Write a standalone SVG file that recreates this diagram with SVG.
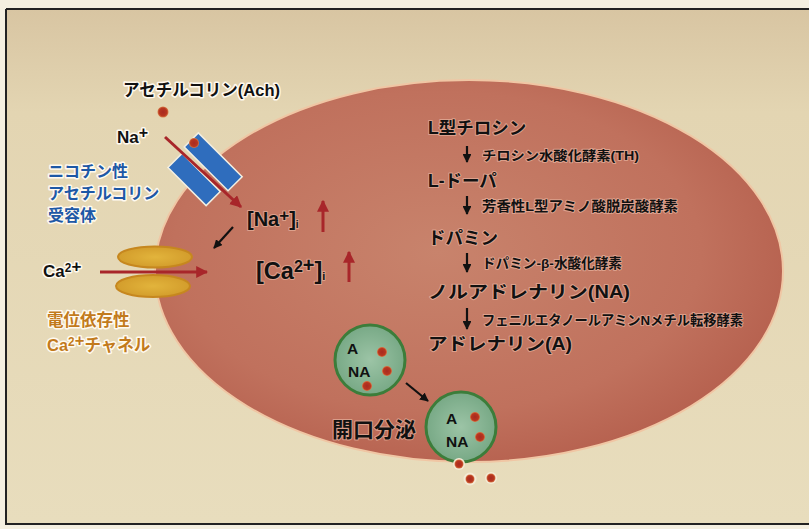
<svg xmlns="http://www.w3.org/2000/svg" width="809" height="529" viewBox="0 0 809 529">
  <defs>
    <radialGradient id="cellFill" cx="0.45" cy="0.45" r="0.6">
      <stop offset="0" stop-color="#c8836c"/>
      <stop offset="0.7" stop-color="#c0715d"/>
      <stop offset="1" stop-color="#b55f4d"/>
    </radialGradient>
    <linearGradient id="bgFill" x1="0" y1="0" x2="0" y2="1">
      <stop offset="0" stop-color="#d8c5a2"/>
      <stop offset="0.2" stop-color="#e3d5b2"/>
      <stop offset="1" stop-color="#e8ddbd"/>
    </linearGradient>
    <radialGradient id="vesicleFill" cx="0.5" cy="0.5" r="0.5">
      <stop offset="0" stop-color="#9cc4a6"/>
      <stop offset="1" stop-color="#78a986"/>
    </radialGradient>
    <radialGradient id="dotFill" cx="0.5" cy="0.5" r="0.5">
      <stop offset="0" stop-color="#a82a20"/>
      <stop offset="0.7" stop-color="#b8361f"/>
      <stop offset="1" stop-color="#d87a48"/>
    </radialGradient>
    <radialGradient id="caFill" cx="0.5" cy="0.5" r="0.5">
      <stop offset="0" stop-color="#e2b43c"/>
      <stop offset="1" stop-color="#d39d2c"/>
    </radialGradient>
    <marker id="redHead" viewBox="0 0 10 10" refX="9" refY="5" markerWidth="4" markerHeight="4" orient="auto" markerUnits="strokeWidth">
      <path d="M0,0 L10,5 L0,10 Z" fill="#a8262a"/>
    </marker>
    <marker id="blackHead" viewBox="0 0 10 10" refX="9" refY="5" markerWidth="4" markerHeight="4" orient="auto" markerUnits="strokeWidth">
      <path d="M0,0 L10,5 L0,10 Z" fill="#111"/>
    </marker>
    <style>
      .jp { font-family: "Liberation Sans", "Noto Sans CJK JP", sans-serif; font-weight: bold; }
      .halo { paint-order: stroke; stroke: #fffaf0; stroke-width: 3; stroke-linejoin: round; }
      .inhalo { paint-order: stroke; stroke: #e8b4a0; stroke-width: 2; stroke-linejoin: round; stroke-opacity: 0.7; }
      .blk { fill: #111; }
      .blue { fill: #1d58a6; }
      .ochre { fill: #c27a1c; }
      .dot { fill: url(#dotFill); }
      .vesicle { fill: url(#vesicleFill); stroke: #3c7d3a; stroke-width: 3; }
      .redArrow { stroke: #a8262a; stroke-width: 3; fill: none; }
      .blackArrow { stroke: #111; stroke-width: 2.2; fill: none; }
      .chan { fill: #2f6dbd; stroke: #f3efe2; stroke-width: 1.5; }
      .caChan { fill: url(#caFill); stroke: #c6871f; stroke-width: 2; }
    </style>
  </defs>

  <!-- page background and frame -->
  <rect x="0" y="0" width="809" height="529" fill="#f4efe0"/>
  <rect x="6" y="9" width="803" height="515" fill="url(#bgFill)"/>
  <path d="M6,9 H809 M6,9 V524 H809" stroke="#222" stroke-width="2" fill="none"/>

  <!-- cell body -->
  <g id="cell">
    <ellipse cx="469" cy="271" rx="314" ry="191" fill="url(#cellFill)" stroke="#f0c6a4" stroke-width="2"/>
  </g>

  <!-- acetylcholine -->
  <g id="ach-label">
    <text x="123" y="96" class="jp blk halo" font-size="16.5">アセチルコリン(Ach)</text>
  </g>
  <g id="ach-dot">
    <circle cx="163" cy="112" r="5.5" class="dot"/>
  </g>

  <!-- nicotinic receptor: two subunits either side of the pore -->
  <g id="receptor">
    <g transform="translate(204,171) rotate(45)">
      <rect x="-31" y="-23" width="62" height="20" class="chan"/>
      <rect x="-28" y="3" width="54" height="20" class="chan"/>
    </g>
    <circle cx="194" cy="143" r="5" class="dot"/>
  </g>
  <g id="receptor-label">
    <text class="jp blue halo" font-size="16">
      <tspan x="48" y="177">ニコチン性</tspan>
      <tspan x="48" y="199">アセチルコリン</tspan>
      <tspan x="48" y="221">受容体</tspan>
    </text>
  </g>

  <g id="na-label">
    <text x="117" y="143" class="jp blk halo" font-size="17">Na<tspan font-size="16" dy="-5">+</tspan></text>
  </g>

  <!-- intracellular ions -->
  <g id="na-in">
    <text x="247" y="226" class="jp blk inhalo" font-size="20">[Na<tspan font-size="17" dy="-5">+</tspan><tspan dy="5">]</tspan><tspan font-size="10" dy="2">i</tspan></text>
  </g>
  <g id="ca-in">
    <text x="256" y="279" class="jp blk inhalo" font-size="23.5">[Ca<tspan font-size="16" dy="-7">2</tspan><tspan font-size="20">+</tspan><tspan dy="7">]</tspan><tspan font-size="11" dy="1">i</tspan></text>
  </g>

  <!-- voltage-gated Ca channel -->
  <g id="ca-channel">
    <ellipse cx="155" cy="257" rx="37" ry="10.5" class="caChan"/>
    <ellipse cx="153" cy="286" rx="37" ry="11" class="caChan"/>
  </g>
  <g id="ca-label">
    <text x="43" y="277" class="jp blk halo" font-size="17">Ca<tspan font-size="12" dy="-5">2</tspan><tspan font-size="17">+</tspan></text>
  </g>
  <g id="ca-channel-label">
    <text class="jp ochre halo" font-size="16.5">
      <tspan x="47" y="326">電位依存性</tspan>
      <tspan x="47" y="351">Ca<tspan font-size="12" dy="-5">2</tspan><tspan font-size="16.5">+</tspan><tspan dy="5">チャネル</tspan></tspan>
    </text>
  </g>

  <!-- catecholamine synthesis pathway -->
  <g id="step-tyrosine">
    <text x="428" y="134" class="jp blk inhalo" font-size="17.5">L型チロシン</text>
  </g>
  <g id="enzyme-th">
    <text x="482" y="160" class="jp blk inhalo" font-size="13" textLength="157" lengthAdjust="spacingAndGlyphs">チロシン水酸化酵素(TH)</text>
  </g>
  <g id="step-ldopa">
    <text x="428" y="187" class="jp blk inhalo" font-size="17.5">L-ドーパ</text>
  </g>
  <g id="enzyme-aadc">
    <text x="482" y="211" class="jp blk inhalo" font-size="13.5" textLength="196" lengthAdjust="spacingAndGlyphs">芳香性L型アミノ酸脱炭酸酵素</text>
  </g>
  <g id="step-dopamine">
    <text x="428" y="244" class="jp blk inhalo" font-size="17.5">ドパミン</text>
  </g>
  <g id="enzyme-dbh">
    <text x="482" y="268" class="jp blk inhalo" font-size="13.5" textLength="140" lengthAdjust="spacingAndGlyphs">ドパミン-β-水酸化酵素</text>
  </g>
  <g id="step-noradrenaline">
    <text x="428" y="298" class="jp blk inhalo" font-size="17.5" textLength="202" lengthAdjust="spacingAndGlyphs">ノルアドレナリン(NA)</text>
  </g>
  <g id="enzyme-pnmt">
    <text x="482" y="325" class="jp blk inhalo" font-size="13.5" textLength="261" lengthAdjust="spacingAndGlyphs">フェニルエタノールアミンNメチル転移酵素</text>
  </g>
  <g id="step-adrenaline">
    <text x="428" y="350" class="jp blk inhalo" font-size="17.5" textLength="144" lengthAdjust="spacingAndGlyphs">アドレナリン(A)</text>
  </g>

  <!-- secretory vesicles -->
  <g id="vesicle-stored">
    <circle cx="370" cy="360" r="35" class="vesicle"/>
    <text x="347" y="354" class="jp blk" font-size="15.5">A</text>
    <text x="348" y="377" class="jp blk" font-size="15.5">NA</text>
    <circle cx="382" cy="352" r="5" class="dot"/>
    <circle cx="387" cy="371" r="5" class="dot"/>
    <circle cx="367" cy="386" r="5" class="dot"/>
  </g>
  <g id="vesicle-fusing">
    <circle cx="461" cy="427" r="35" class="vesicle"/>
    <text x="446" y="424" class="jp blk" font-size="15.5">A</text>
    <text x="446" y="447" class="jp blk" font-size="15.5">NA</text>
    <circle cx="475" cy="417" r="5" class="dot"/>
    <circle cx="480" cy="437" r="5" class="dot"/>
  </g>
  <g id="released">
    <circle cx="459" cy="464" r="6" fill="#f3ead6"/>
    <circle cx="459" cy="464" r="4.5" class="dot"/>
    <circle cx="470" cy="479" r="6.5" fill="#f3ead6"/>
    <circle cx="470" cy="479" r="4.5" class="dot"/>
    <circle cx="491" cy="478" r="6" fill="#f3ead6"/>
    <circle cx="491" cy="478" r="4.5" class="dot"/>
  </g>
  <g id="exocytosis-label">
    <text x="332" y="437" class="jp blk inhalo" font-size="21">開口分泌</text>
  </g>

  <!-- connectors -->
  <g id="connectors">
    <line x1="165" y1="137" x2="241" y2="207" class="redArrow" marker-end="url(#redHead)"/>
    <line x1="100" y1="272" x2="207" y2="272" class="redArrow" marker-end="url(#redHead)"/>
    <line x1="323" y1="232" x2="323" y2="201" class="redArrow" stroke-width="2.5" marker-end="url(#redHead)"/>
    <line x1="349" y1="282" x2="349" y2="252" class="redArrow" stroke-width="2.5" marker-end="url(#redHead)"/>
    <line x1="233" y1="227" x2="214" y2="248" class="blackArrow" marker-end="url(#blackHead)"/>
    <line x1="467" y1="146" x2="467" y2="162" class="blackArrow" marker-end="url(#blackHead)"/>
    <line x1="467" y1="196" x2="467" y2="214" class="blackArrow" marker-end="url(#blackHead)"/>
    <line x1="467" y1="253" x2="467" y2="272" class="blackArrow" marker-end="url(#blackHead)"/>
    <line x1="467" y1="308" x2="467" y2="329" class="blackArrow" marker-end="url(#blackHead)"/>
    <line x1="406" y1="383" x2="428" y2="401" class="blackArrow" marker-end="url(#blackHead)"/>
  </g>
</svg>
